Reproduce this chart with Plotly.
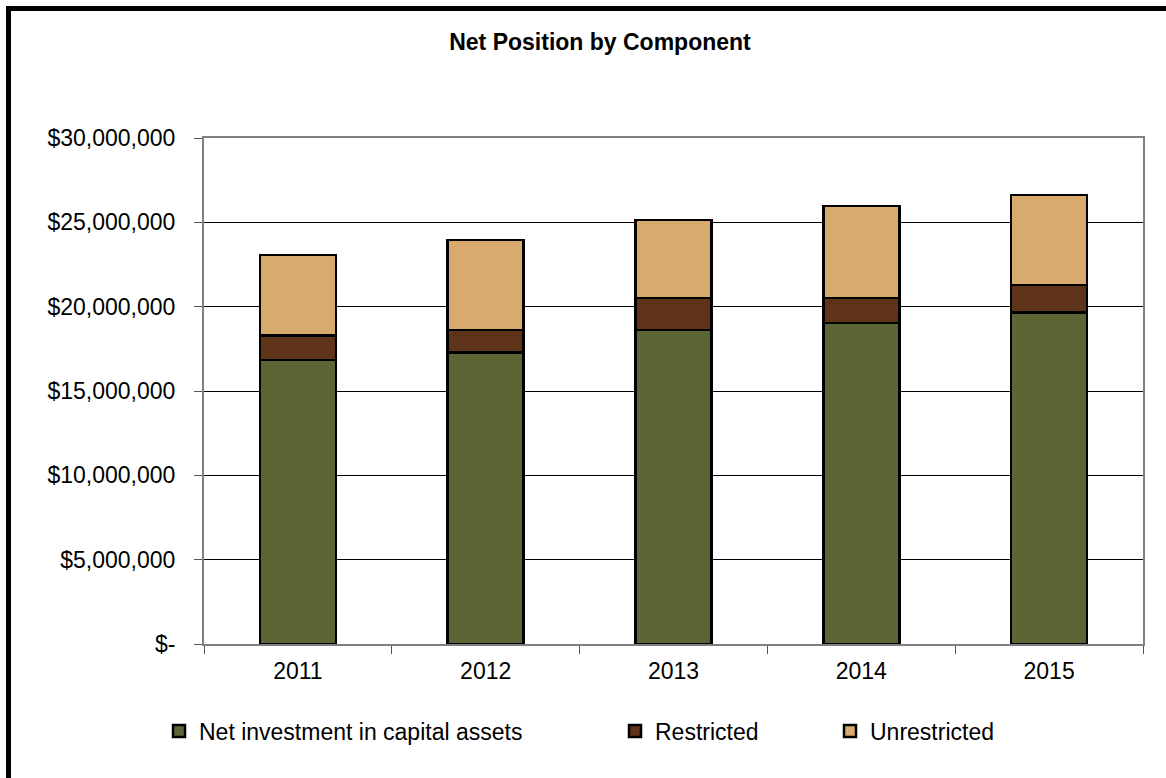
import plotly.graph_objects as go

years = ["2011", "2012", "2013", "2014", "2015"]
net_investment = [16840000, 17270000, 18620000, 19030000, 19640000]
restricted = [1440000, 1350000, 1890000, 1480000, 1640000]
unrestricted = [4780000, 5330000, 4630000, 5460000, 5340000]

y_tickvals = [0, 5000000, 10000000, 15000000, 20000000, 25000000, 30000000]
y_ticktext = ["$-", "$5,000,000", "$10,000,000", "$15,000,000", "$20,000,000", "$25,000,000", "$30,000,000"]

FONT = "Liberation Sans, Arial, sans-serif"
W, H = 1166, 778
L, R, T, B = 204, 23, 138, 134
pw, ph = W - L - R, H - T - B


def px_x(p):
    return (p - L) / pw


def px_y(p):
    return (H - B - p) / ph


fig = go.Figure()
series = [
    ("Net investment in capital assets", net_investment, "#5C6535", "legend"),
    ("Restricted", restricted, "#5E3317", "legend2"),
    ("Unrestricted", unrestricted, "#D8AA6E", "legend3"),
]
for name, vals, col, lg in series:
    fig.add_trace(go.Bar(
        x=years, y=vals, name=name, width=0.405,
        marker=dict(color=col, line=dict(color="#000000", width=2.5)),
        legend=lg,
    ))

leg_common = dict(orientation="h", yanchor="middle", xanchor="left",
                  font=dict(family=FONT, size=23, color="#000000"),
                  bgcolor="rgba(0,0,0,0)", borderwidth=0)

frame = dict(color="#000000", width=5)

fig.update_layout(
    width=W, height=H,
    margin=dict(l=L, r=R, t=T, b=B),
    barmode="stack",
    bargap=0.595,
    paper_bgcolor="white",
    plot_bgcolor="white",
    font=dict(family=FONT, color="#000000"),
    title=dict(text="<b>Net Position by Component</b>", x=(600 / W), xanchor="center",
               y=1 - 42 / H, yanchor="middle",
               font=dict(family=FONT, size=23, color="#000000")),
    showlegend=True,
    legend=dict(x=px_x(159), y=px_y(731), **leg_common),
    legend2=dict(x=px_x(615), y=px_y(731), **leg_common),
    legend3=dict(x=px_x(830), y=px_y(731), **leg_common),
    xaxis=dict(
        type="category", showgrid=False, ticks="outside", tickson="boundaries",
        ticklen=8, tickcolor="#555555", tickwidth=1,
        showline=True, linecolor="#808080", linewidth=2, mirror=True,
        tickfont=dict(family=FONT, size=23, color="#000000"),
        ticklabelstandoff=5,
    ),
    yaxis=dict(
        range=[0, 30000000], tickvals=y_tickvals, ticktext=y_ticktext,
        showgrid=True, gridcolor="#000000", gridwidth=1,
        ticks="outside", ticklen=8, tickcolor="#555555", tickwidth=1,
        showline=True, linecolor="#808080", linewidth=2, mirror=True,
        tickfont=dict(family=FONT, size=23, color="#000000"),
        ticklabelstandoff=14, zeroline=False,
    ),
    shapes=[
        dict(type="line", xref="paper", yref="paper",
             x0=px_x(8.5), x1=px_x(8.5), y0=px_y(800), y1=px_y(8.5), line=frame),
        dict(type="line", xref="paper", yref="paper",
             x0=px_x(6), x1=px_x(1166), y0=px_y(8.5), y1=px_y(8.5), line=frame),
    ],
)

fig.write_html("out.html", config={"displayModeBar": False})
